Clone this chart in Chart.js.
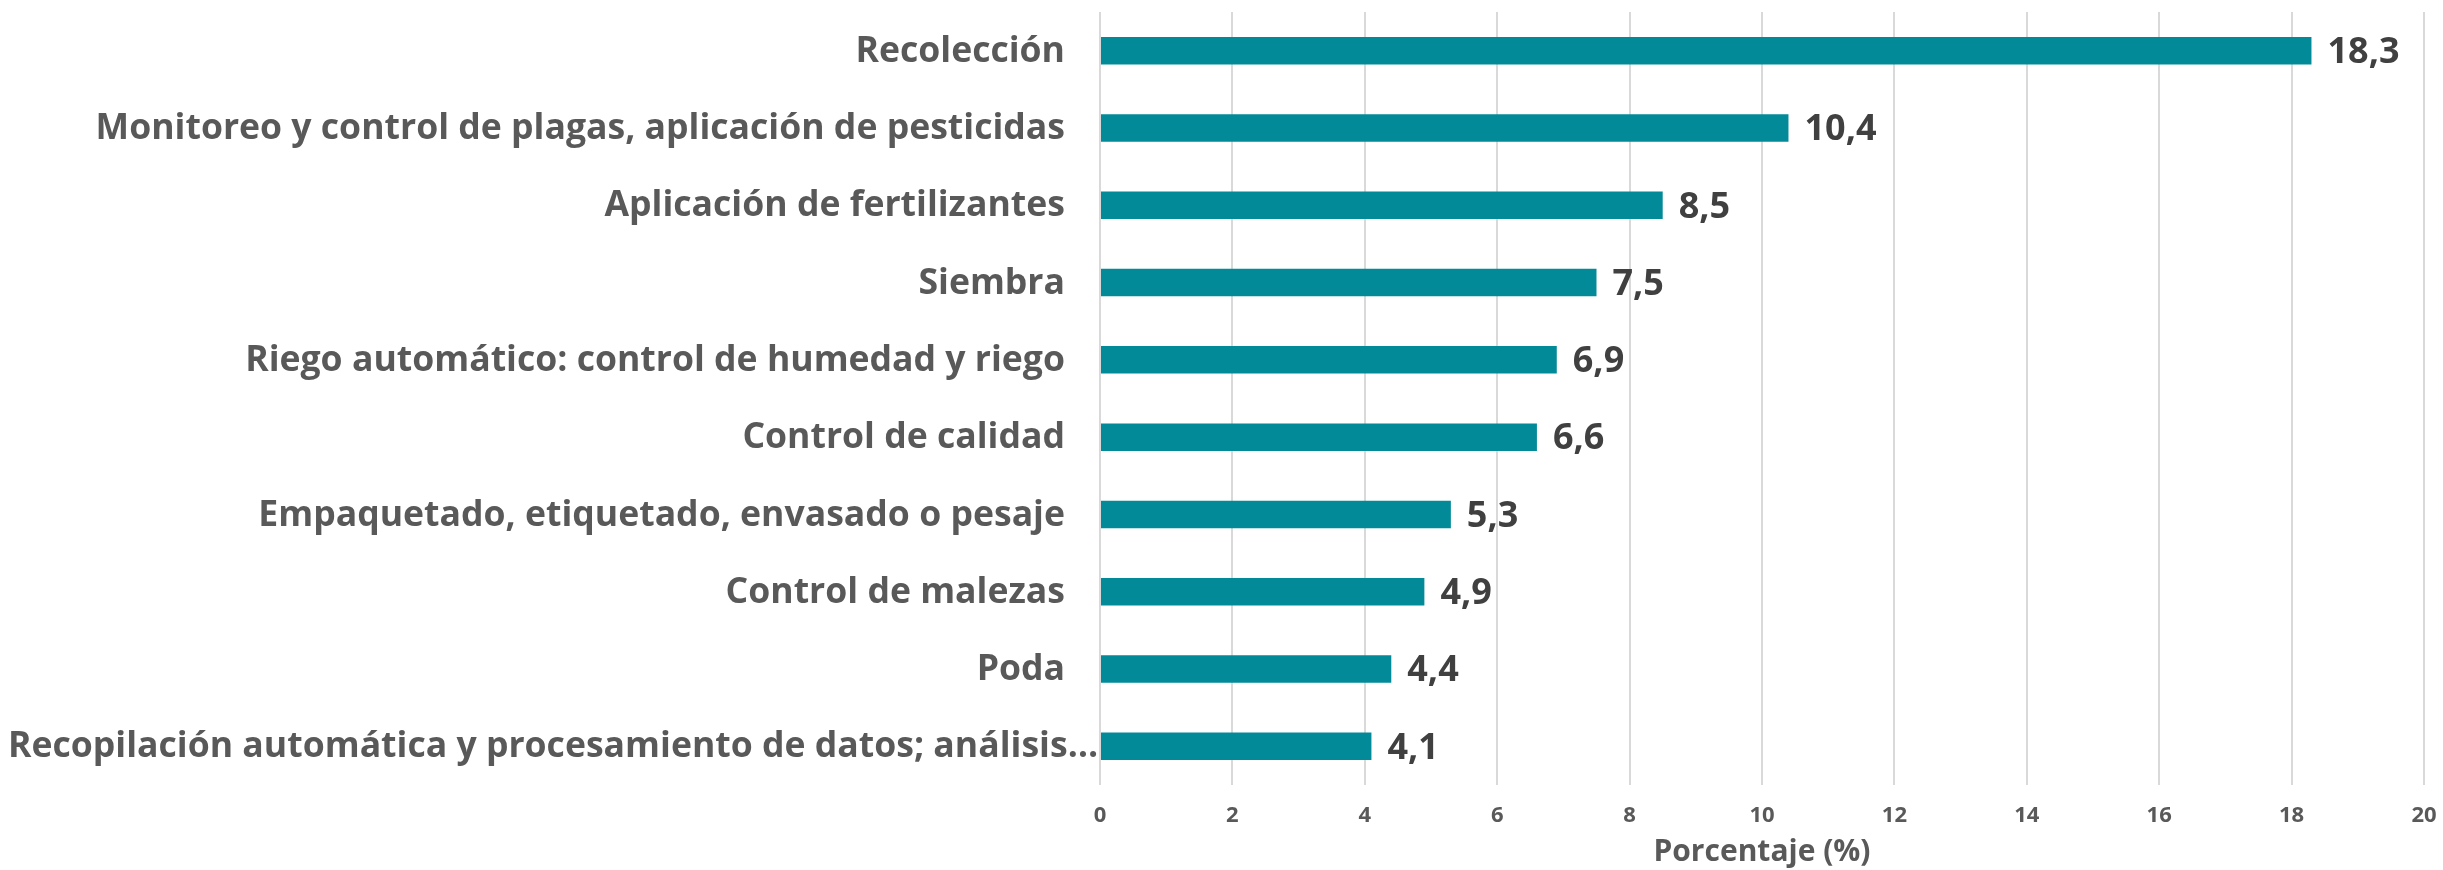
<!DOCTYPE html>
<html>
<head>
<meta charset="utf-8">
<script src="https://cdn.jsdelivr.net/npm/chart.js@4.4.1/dist/chart.umd.min.js"></script>
<style>
  html, body { margin: 0; padding: 0; background: #fff; }
  #wrap { width: 2443px; height: 870px; }
</style>
</head>
<body>
<div id="wrap"><canvas id="mainChart" width="2443" height="870"></canvas></div>
<script>
const categories = [
    'Recolección',
    'Monitoreo y control de plagas, aplicación de pesticidas',
    'Aplicación de fertilizantes',
    'Siembra',
    'Riego automático: control de humedad y riego',
    'Control de calidad',
    'Empaquetado, etiquetado, envasado o pesaje',
    'Control de malezas',
    'Poda',
    'Recopilación automática y procesamiento de datos; análisis…'
];
const percentages = [18.3, 10.4, 8.5, 7.5, 6.9, 6.6, 5.3, 4.9, 4.4, 4.1];
const xTicks = [0, 2, 4, 6, 8, 10, 12, 14, 16, 18, 20];

const FONT = "'Open Sans', 'Noto Sans', sans-serif";
const LABEL_GAP = 35;

// etiquetas de categoría (la última se desborda hacia el eje, como en el original)
const categoryLabels = {
    id: 'categoryLabels',
    afterDraw(chart) {
        const ctx = chart.ctx;
        const yScale = chart.scales.y;
        const right = chart.chartArea.left - LABEL_GAP;
        ctx.save();
        ctx.font = `bold 35.6px ${FONT}`;
        ctx.fillStyle = '#595959';
        ctx.textBaseline = 'middle';
        ctx.textAlign = 'left';
        categories.forEach((label, i) => {
            const w = ctx.measureText(label).width;
            let x = right - w;
            if (x < 8) x = 8;
            ctx.fillText(label, x, yScale.getPixelForTick(i) + 1);
        });
        ctx.restore();
    }
};

// etiquetas de valor al final de cada barra
const valueLabels = {
    id: 'valueLabels',
    afterDatasetsDraw(chart) {
        const ctx = chart.ctx;
        const meta = chart.getDatasetMeta(0);
        ctx.save();
        ctx.font = `bold 36px ${FONT}`;
        ctx.fillStyle = '#404040';
        ctx.textAlign = 'left';
        ctx.textBaseline = 'middle';
        meta.data.forEach((bar, i) => {
            const txt = percentages[i].toFixed(1).replace('.', ',');
            ctx.fillText(txt, bar.x + 16, bar.y + 2);
        });
        ctx.restore();
    }
};

new Chart(document.getElementById('mainChart').getContext('2d'), {
    type: 'bar',
    data: {
        labels: categories,
        datasets: [{
            data: percentages,
            backgroundColor: '#028a99',
            borderWidth: 0,
            barPercentage: 0.356,
            categoryPercentage: 1
        }]
    },
    options: {
        indexAxis: 'y',
        responsive: false,
        animation: false,
        layout: { padding: { top: 12, right: 19, left: 0, bottom: 0 } },
        plugins: {
            legend: { display: false },
            tooltip: { enabled: false }
        },
        scales: {
            x: {
                min: 0,
                max: 20,
                afterBuildTicks: scale => { scale.ticks = xTicks.map(v => ({ value: v })); },
                afterFit: scale => {
                    scale.height = 85;
                    scale.paddingLeft = 0;
                    scale.paddingRight = 0;
                },
                grid: { color: '#d9d9d9', lineWidth: 2, drawTicks: false },
                border: { display: false },
                ticks: {
                    padding: 18,
                    color: '#595959',
                    font: { family: FONT, size: 22, weight: 'bold' }
                },
                title: {
                    display: true,
                    text: 'Porcentaje (%)',
                    color: '#595959',
                    padding: { top: 0, bottom: 0 },
                    font: { family: FONT, size: 30, weight: 'bold' }
                }
            },
            y: {
                afterFit: scale => {
                    scale.width = 1100;
                    scale.paddingTop = 0;
                    scale.paddingBottom = 0;
                },
                grid: { display: false },
                border: { display: false },
                ticks: { display: false }
            }
        }
    },
    plugins: [valueLabels, categoryLabels]
});
</script>
</body>
</html>
